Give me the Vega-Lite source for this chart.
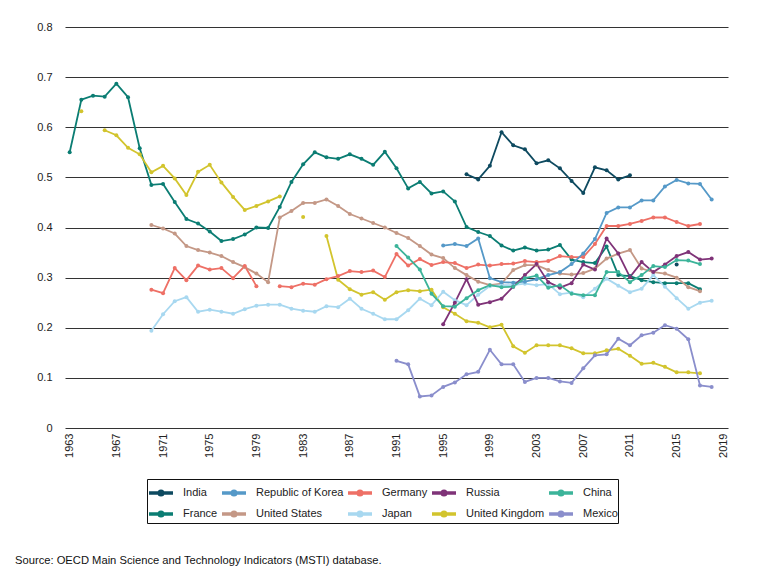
{
  "$schema": "https://vega.github.io/schema/vega-lite/v6.json",
  "width": 663,
  "height": 401,
  "autosize": "none",
  "padding": {"left": 65, "top": 27, "right": 35, "bottom": 156},
  "background": "white",
  "title": {
    "text": "Source: OECD Main Science and Technology Indicators (MSTI) database.",
    "orient": "bottom",
    "anchor": "start",
    "frame": "group",
    "font": "Liberation Sans",
    "fontSize": 11.2,
    "fontWeight": "normal",
    "color": "#111",
    "dx": -50,
    "offset": 31
  },
  "config": {
    "view": {"stroke": null},
    "axis": {"labelFont": "Liberation Sans", "labelFontSize": 11, "labelColor": "#222"},
    "legend": {"labelFont": "Liberation Sans", "labelFontSize": 11, "labelColor": "#222", "gridAlign": "none"}
  },
  "data": {
    "values": [
      {"country": "France", "year": 1963, "value": 0.550}, {"country": "France", "year": 1964, "value": 0.655}, {"country": "France", "year": 1965, "value": 0.663}, {"country": "France", "year": 1966, "value": 0.661}, {"country": "France", "year": 1967, "value": 0.687}, {"country": "France", "year": 1968, "value": 0.660}, {"country": "France", "year": 1969, "value": 0.558}, {"country": "France", "year": 1970, "value": 0.485}, {"country": "France", "year": 1971, "value": 0.487}, {"country": "France", "year": 1972, "value": 0.451}, {"country": "France", "year": 1973, "value": 0.417}, {"country": "France", "year": 1974, "value": 0.408}, {"country": "France", "year": 1975, "value": 0.392}, {"country": "France", "year": 1976, "value": 0.373}, {"country": "France", "year": 1977, "value": 0.377}, {"country": "France", "year": 1978, "value": 0.386}, {"country": "France", "year": 1979, "value": 0.400}, {"country": "France", "year": 1980, "value": 0.399}, {"country": "France", "year": 1981, "value": 0.441}, {"country": "France", "year": 1982, "value": 0.491}, {"country": "France", "year": 1983, "value": 0.526}, {"country": "France", "year": 1984, "value": 0.550}, {"country": "France", "year": 1985, "value": 0.540}, {"country": "France", "year": 1986, "value": 0.537}, {"country": "France", "year": 1987, "value": 0.546}, {"country": "France", "year": 1988, "value": 0.537}, {"country": "France", "year": 1989, "value": 0.525}, {"country": "France", "year": 1990, "value": 0.551}, {"country": "France", "year": 1991, "value": 0.518}, {"country": "France", "year": 1992, "value": 0.478}, {"country": "France", "year": 1993, "value": 0.491}, {"country": "France", "year": 1994, "value": 0.468}, {"country": "France", "year": 1995, "value": 0.472}, {"country": "France", "year": 1996, "value": 0.452}, {"country": "France", "year": 1997, "value": 0.401}, {"country": "France", "year": 1998, "value": 0.391}, {"country": "France", "year": 1999, "value": 0.383}, {"country": "France", "year": 2000, "value": 0.364}, {"country": "France", "year": 2001, "value": 0.354}, {"country": "France", "year": 2002, "value": 0.360}, {"country": "France", "year": 2003, "value": 0.354}, {"country": "France", "year": 2004, "value": 0.356}, {"country": "France", "year": 2005, "value": 0.365}, {"country": "France", "year": 2006, "value": 0.336}, {"country": "France", "year": 2007, "value": 0.331}, {"country": "France", "year": 2008, "value": 0.329}, {"country": "France", "year": 2009, "value": 0.362}, {"country": "France", "year": 2010, "value": 0.305}, {"country": "France", "year": 2011, "value": 0.303}, {"country": "France", "year": 2012, "value": 0.295}, {"country": "France", "year": 2013, "value": 0.291}, {"country": "France", "year": 2014, "value": 0.289}, {"country": "France", "year": 2015, "value": 0.289}, {"country": "France", "year": 2016, "value": 0.289}, {"country": "France", "year": 2017, "value": 0.277},
      {"country": "United Kingdom", "year": 1964, "value": 0.632}, {"country": "United Kingdom", "year": 1965, "value": null}, {"country": "United Kingdom", "year": 1966, "value": 0.594}, {"country": "United Kingdom", "year": 1967, "value": 0.584}, {"country": "United Kingdom", "year": 1968, "value": 0.559}, {"country": "United Kingdom", "year": 1969, "value": 0.546}, {"country": "United Kingdom", "year": 1970, "value": 0.510}, {"country": "United Kingdom", "year": 1971, "value": 0.523}, {"country": "United Kingdom", "year": 1972, "value": 0.498}, {"country": "United Kingdom", "year": 1973, "value": 0.465}, {"country": "United Kingdom", "year": 1974, "value": 0.511}, {"country": "United Kingdom", "year": 1975, "value": 0.525}, {"country": "United Kingdom", "year": 1976, "value": 0.490}, {"country": "United Kingdom", "year": 1977, "value": 0.461}, {"country": "United Kingdom", "year": 1978, "value": 0.435}, {"country": "United Kingdom", "year": 1979, "value": 0.443}, {"country": "United Kingdom", "year": 1980, "value": 0.452}, {"country": "United Kingdom", "year": 1981, "value": 0.462}, {"country": "United Kingdom", "year": 1982, "value": null}, {"country": "United Kingdom", "year": 1983, "value": 0.421}, {"country": "United Kingdom", "year": 1984, "value": null}, {"country": "United Kingdom", "year": 1985, "value": 0.383}, {"country": "United Kingdom", "year": 1986, "value": 0.296}, {"country": "United Kingdom", "year": 1987, "value": 0.277}, {"country": "United Kingdom", "year": 1988, "value": 0.266}, {"country": "United Kingdom", "year": 1989, "value": 0.271}, {"country": "United Kingdom", "year": 1990, "value": 0.256}, {"country": "United Kingdom", "year": 1991, "value": 0.271}, {"country": "United Kingdom", "year": 1992, "value": 0.275}, {"country": "United Kingdom", "year": 1993, "value": 0.273}, {"country": "United Kingdom", "year": 1994, "value": 0.276}, {"country": "United Kingdom", "year": 1995, "value": 0.241}, {"country": "United Kingdom", "year": 1996, "value": 0.228}, {"country": "United Kingdom", "year": 1997, "value": 0.213}, {"country": "United Kingdom", "year": 1998, "value": 0.210}, {"country": "United Kingdom", "year": 1999, "value": 0.201}, {"country": "United Kingdom", "year": 2000, "value": 0.206}, {"country": "United Kingdom", "year": 2001, "value": 0.163}, {"country": "United Kingdom", "year": 2002, "value": 0.150}, {"country": "United Kingdom", "year": 2003, "value": 0.165}, {"country": "United Kingdom", "year": 2004, "value": 0.165}, {"country": "United Kingdom", "year": 2005, "value": 0.165}, {"country": "United Kingdom", "year": 2006, "value": 0.159}, {"country": "United Kingdom", "year": 2007, "value": 0.149}, {"country": "United Kingdom", "year": 2008, "value": 0.149}, {"country": "United Kingdom", "year": 2009, "value": 0.155}, {"country": "United Kingdom", "year": 2010, "value": 0.158}, {"country": "United Kingdom", "year": 2011, "value": 0.144}, {"country": "United Kingdom", "year": 2012, "value": 0.128}, {"country": "United Kingdom", "year": 2013, "value": 0.130}, {"country": "United Kingdom", "year": 2014, "value": 0.122}, {"country": "United Kingdom", "year": 2015, "value": 0.111}, {"country": "United Kingdom", "year": 2016, "value": 0.111}, {"country": "United Kingdom", "year": 2017, "value": 0.109},
      {"country": "United States", "year": 1970, "value": 0.405}, {"country": "United States", "year": 1971, "value": 0.398}, {"country": "United States", "year": 1972, "value": 0.388}, {"country": "United States", "year": 1973, "value": 0.363}, {"country": "United States", "year": 1974, "value": 0.355}, {"country": "United States", "year": 1975, "value": 0.350}, {"country": "United States", "year": 1976, "value": 0.343}, {"country": "United States", "year": 1977, "value": 0.331}, {"country": "United States", "year": 1978, "value": 0.321}, {"country": "United States", "year": 1979, "value": 0.308}, {"country": "United States", "year": 1980, "value": 0.291}, {"country": "United States", "year": 1981, "value": 0.420}, {"country": "United States", "year": 1982, "value": 0.433}, {"country": "United States", "year": 1983, "value": 0.449}, {"country": "United States", "year": 1984, "value": 0.449}, {"country": "United States", "year": 1985, "value": 0.456}, {"country": "United States", "year": 1986, "value": 0.443}, {"country": "United States", "year": 1987, "value": 0.427}, {"country": "United States", "year": 1988, "value": 0.418}, {"country": "United States", "year": 1989, "value": 0.409}, {"country": "United States", "year": 1990, "value": 0.400}, {"country": "United States", "year": 1991, "value": 0.389}, {"country": "United States", "year": 1992, "value": 0.379}, {"country": "United States", "year": 1993, "value": 0.363}, {"country": "United States", "year": 1994, "value": 0.346}, {"country": "United States", "year": 1995, "value": 0.339}, {"country": "United States", "year": 1996, "value": 0.319}, {"country": "United States", "year": 1997, "value": 0.305}, {"country": "United States", "year": 1998, "value": 0.292}, {"country": "United States", "year": 1999, "value": 0.285}, {"country": "United States", "year": 2000, "value": 0.288}, {"country": "United States", "year": 2001, "value": 0.315}, {"country": "United States", "year": 2002, "value": 0.325}, {"country": "United States", "year": 2003, "value": 0.325}, {"country": "United States", "year": 2004, "value": 0.315}, {"country": "United States", "year": 2005, "value": 0.308}, {"country": "United States", "year": 2006, "value": 0.306}, {"country": "United States", "year": 2007, "value": 0.309}, {"country": "United States", "year": 2008, "value": 0.318}, {"country": "United States", "year": 2009, "value": 0.338}, {"country": "United States", "year": 2010, "value": 0.348}, {"country": "United States", "year": 2011, "value": 0.355}, {"country": "United States", "year": 2012, "value": 0.318}, {"country": "United States", "year": 2013, "value": 0.311}, {"country": "United States", "year": 2014, "value": 0.308}, {"country": "United States", "year": 2015, "value": 0.300}, {"country": "United States", "year": 2016, "value": 0.281}, {"country": "United States", "year": 2017, "value": 0.273},
      {"country": "Germany", "year": 1970, "value": 0.276}, {"country": "Germany", "year": 1971, "value": 0.269}, {"country": "Germany", "year": 1972, "value": 0.319}, {"country": "Germany", "year": 1973, "value": 0.295}, {"country": "Germany", "year": 1974, "value": 0.324}, {"country": "Germany", "year": 1975, "value": 0.316}, {"country": "Germany", "year": 1976, "value": 0.319}, {"country": "Germany", "year": 1977, "value": 0.299}, {"country": "Germany", "year": 1978, "value": 0.323}, {"country": "Germany", "year": 1979, "value": 0.283}, {"country": "Germany", "year": 1980, "value": null}, {"country": "Germany", "year": 1981, "value": 0.283}, {"country": "Germany", "year": 1982, "value": 0.281}, {"country": "Germany", "year": 1983, "value": 0.288}, {"country": "Germany", "year": 1984, "value": 0.286}, {"country": "Germany", "year": 1985, "value": 0.297}, {"country": "Germany", "year": 1986, "value": 0.303}, {"country": "Germany", "year": 1987, "value": 0.313}, {"country": "Germany", "year": 1988, "value": 0.311}, {"country": "Germany", "year": 1989, "value": 0.314}, {"country": "Germany", "year": 1990, "value": 0.301}, {"country": "Germany", "year": 1991, "value": 0.347}, {"country": "Germany", "year": 1992, "value": 0.324}, {"country": "Germany", "year": 1993, "value": 0.337}, {"country": "Germany", "year": 1994, "value": 0.325}, {"country": "Germany", "year": 1995, "value": 0.331}, {"country": "Germany", "year": 1996, "value": 0.329}, {"country": "Germany", "year": 1997, "value": 0.319}, {"country": "Germany", "year": 1998, "value": 0.326}, {"country": "Germany", "year": 1999, "value": 0.324}, {"country": "Germany", "year": 2000, "value": 0.327}, {"country": "Germany", "year": 2001, "value": 0.328}, {"country": "Germany", "year": 2002, "value": 0.333}, {"country": "Germany", "year": 2003, "value": 0.331}, {"country": "Germany", "year": 2004, "value": 0.333}, {"country": "Germany", "year": 2005, "value": 0.343}, {"country": "Germany", "year": 2006, "value": 0.341}, {"country": "Germany", "year": 2007, "value": 0.341}, {"country": "Germany", "year": 2008, "value": 0.367}, {"country": "Germany", "year": 2009, "value": 0.403}, {"country": "Germany", "year": 2010, "value": 0.403}, {"country": "Germany", "year": 2011, "value": 0.407}, {"country": "Germany", "year": 2012, "value": 0.413}, {"country": "Germany", "year": 2013, "value": 0.420}, {"country": "Germany", "year": 2014, "value": 0.420}, {"country": "Germany", "year": 2015, "value": 0.411}, {"country": "Germany", "year": 2016, "value": 0.403}, {"country": "Germany", "year": 2017, "value": 0.407},
      {"country": "Japan", "year": 1970, "value": 0.194}, {"country": "Japan", "year": 1971, "value": 0.227}, {"country": "Japan", "year": 1972, "value": 0.253}, {"country": "Japan", "year": 1973, "value": 0.261}, {"country": "Japan", "year": 1974, "value": 0.232}, {"country": "Japan", "year": 1975, "value": 0.236}, {"country": "Japan", "year": 1976, "value": 0.232}, {"country": "Japan", "year": 1977, "value": 0.228}, {"country": "Japan", "year": 1978, "value": 0.237}, {"country": "Japan", "year": 1979, "value": 0.244}, {"country": "Japan", "year": 1980, "value": 0.246}, {"country": "Japan", "year": 1981, "value": 0.246}, {"country": "Japan", "year": 1982, "value": 0.238}, {"country": "Japan", "year": 1983, "value": 0.234}, {"country": "Japan", "year": 1984, "value": 0.232}, {"country": "Japan", "year": 1985, "value": 0.243}, {"country": "Japan", "year": 1986, "value": 0.241}, {"country": "Japan", "year": 1987, "value": 0.258}, {"country": "Japan", "year": 1988, "value": 0.238}, {"country": "Japan", "year": 1989, "value": 0.228}, {"country": "Japan", "year": 1990, "value": 0.217}, {"country": "Japan", "year": 1991, "value": 0.217}, {"country": "Japan", "year": 1992, "value": 0.235}, {"country": "Japan", "year": 1993, "value": 0.258}, {"country": "Japan", "year": 1994, "value": 0.245}, {"country": "Japan", "year": 1995, "value": 0.272}, {"country": "Japan", "year": 1996, "value": 0.255}, {"country": "Japan", "year": 1997, "value": 0.245}, {"country": "Japan", "year": 1998, "value": 0.266}, {"country": "Japan", "year": 1999, "value": 0.283}, {"country": "Japan", "year": 2000, "value": 0.285}, {"country": "Japan", "year": 2001, "value": 0.285}, {"country": "Japan", "year": 2002, "value": 0.288}, {"country": "Japan", "year": 2003, "value": 0.285}, {"country": "Japan", "year": 2004, "value": 0.287}, {"country": "Japan", "year": 2005, "value": 0.267}, {"country": "Japan", "year": 2006, "value": 0.270}, {"country": "Japan", "year": 2007, "value": 0.261}, {"country": "Japan", "year": 2008, "value": 0.278}, {"country": "Japan", "year": 2009, "value": 0.298}, {"country": "Japan", "year": 2010, "value": 0.284}, {"country": "Japan", "year": 2011, "value": 0.271}, {"country": "Japan", "year": 2012, "value": 0.278}, {"country": "Japan", "year": 2013, "value": 0.305}, {"country": "Japan", "year": 2014, "value": 0.282}, {"country": "Japan", "year": 2015, "value": 0.259}, {"country": "Japan", "year": 2016, "value": 0.238}, {"country": "Japan", "year": 2017, "value": 0.250}, {"country": "Japan", "year": 2018, "value": 0.254},
      {"country": "India", "year": 1997, "value": 0.506}, {"country": "India", "year": 1998, "value": 0.496}, {"country": "India", "year": 1999, "value": 0.523}, {"country": "India", "year": 2000, "value": 0.590}, {"country": "India", "year": 2001, "value": 0.564}, {"country": "India", "year": 2002, "value": 0.556}, {"country": "India", "year": 2003, "value": 0.528}, {"country": "India", "year": 2004, "value": 0.534}, {"country": "India", "year": 2005, "value": 0.518}, {"country": "India", "year": 2006, "value": 0.493}, {"country": "India", "year": 2007, "value": 0.469}, {"country": "India", "year": 2008, "value": 0.520}, {"country": "India", "year": 2009, "value": 0.514}, {"country": "India", "year": 2010, "value": 0.496}, {"country": "India", "year": 2011, "value": 0.504}, {"country": "India", "year": 2012, "value": null}, {"country": "India", "year": 2015, "value": 0.326},
      {"country": "Republic of Korea", "year": 1995, "value": 0.364}, {"country": "Republic of Korea", "year": 1996, "value": 0.367}, {"country": "Republic of Korea", "year": 1997, "value": 0.363}, {"country": "Republic of Korea", "year": 1998, "value": 0.378}, {"country": "Republic of Korea", "year": 1999, "value": 0.299}, {"country": "Republic of Korea", "year": 2000, "value": 0.291}, {"country": "Republic of Korea", "year": 2001, "value": 0.290}, {"country": "Republic of Korea", "year": 2002, "value": 0.292}, {"country": "Republic of Korea", "year": 2003, "value": 0.297}, {"country": "Republic of Korea", "year": 2004, "value": 0.305}, {"country": "Republic of Korea", "year": 2005, "value": 0.311}, {"country": "Republic of Korea", "year": 2006, "value": 0.327}, {"country": "Republic of Korea", "year": 2007, "value": 0.348}, {"country": "Republic of Korea", "year": 2008, "value": 0.377}, {"country": "Republic of Korea", "year": 2009, "value": 0.429}, {"country": "Republic of Korea", "year": 2010, "value": 0.440}, {"country": "Republic of Korea", "year": 2011, "value": 0.440}, {"country": "Republic of Korea", "year": 2012, "value": 0.454}, {"country": "Republic of Korea", "year": 2013, "value": 0.454}, {"country": "Republic of Korea", "year": 2014, "value": 0.482}, {"country": "Republic of Korea", "year": 2015, "value": 0.495}, {"country": "Republic of Korea", "year": 2016, "value": 0.488}, {"country": "Republic of Korea", "year": 2017, "value": 0.487}, {"country": "Republic of Korea", "year": 2018, "value": 0.456},
      {"country": "Russia", "year": 1995, "value": 0.207}, {"country": "Russia", "year": 1996, "value": 0.250}, {"country": "Russia", "year": 1997, "value": 0.297}, {"country": "Russia", "year": 1998, "value": 0.246}, {"country": "Russia", "year": 1999, "value": 0.251}, {"country": "Russia", "year": 2000, "value": 0.258}, {"country": "Russia", "year": 2001, "value": 0.282}, {"country": "Russia", "year": 2002, "value": 0.305}, {"country": "Russia", "year": 2003, "value": 0.327}, {"country": "Russia", "year": 2004, "value": 0.291}, {"country": "Russia", "year": 2005, "value": 0.280}, {"country": "Russia", "year": 2006, "value": 0.289}, {"country": "Russia", "year": 2007, "value": 0.326}, {"country": "Russia", "year": 2008, "value": 0.316}, {"country": "Russia", "year": 2009, "value": 0.378}, {"country": "Russia", "year": 2010, "value": 0.348}, {"country": "Russia", "year": 2011, "value": 0.301}, {"country": "Russia", "year": 2012, "value": 0.331}, {"country": "Russia", "year": 2013, "value": 0.311}, {"country": "Russia", "year": 2014, "value": 0.326}, {"country": "Russia", "year": 2015, "value": 0.343}, {"country": "Russia", "year": 2016, "value": 0.351}, {"country": "Russia", "year": 2017, "value": 0.336}, {"country": "Russia", "year": 2018, "value": 0.338},
      {"country": "China", "year": 1991, "value": 0.363}, {"country": "China", "year": 1992, "value": 0.340}, {"country": "China", "year": 1993, "value": 0.316}, {"country": "China", "year": 1994, "value": 0.268}, {"country": "China", "year": 1995, "value": 0.243}, {"country": "China", "year": 1996, "value": 0.242}, {"country": "China", "year": 1997, "value": 0.259}, {"country": "China", "year": 1998, "value": 0.275}, {"country": "China", "year": 1999, "value": 0.285}, {"country": "China", "year": 2000, "value": 0.281}, {"country": "China", "year": 2001, "value": 0.282}, {"country": "China", "year": 2002, "value": 0.299}, {"country": "China", "year": 2003, "value": 0.304}, {"country": "China", "year": 2004, "value": 0.280}, {"country": "China", "year": 2005, "value": 0.285}, {"country": "China", "year": 2006, "value": 0.268}, {"country": "China", "year": 2007, "value": 0.265}, {"country": "China", "year": 2008, "value": 0.265}, {"country": "China", "year": 2009, "value": 0.311}, {"country": "China", "year": 2010, "value": 0.311}, {"country": "China", "year": 2011, "value": 0.291}, {"country": "China", "year": 2012, "value": 0.305}, {"country": "China", "year": 2013, "value": 0.323}, {"country": "China", "year": 2014, "value": 0.321}, {"country": "China", "year": 2015, "value": 0.335}, {"country": "China", "year": 2016, "value": 0.334}, {"country": "China", "year": 2017, "value": 0.327},
      {"country": "Mexico", "year": 1991, "value": 0.134}, {"country": "Mexico", "year": 1992, "value": 0.127}, {"country": "Mexico", "year": 1993, "value": 0.063}, {"country": "Mexico", "year": 1994, "value": 0.065}, {"country": "Mexico", "year": 1995, "value": 0.082}, {"country": "Mexico", "year": 1996, "value": 0.091}, {"country": "Mexico", "year": 1997, "value": 0.107}, {"country": "Mexico", "year": 1998, "value": 0.112}, {"country": "Mexico", "year": 1999, "value": 0.156}, {"country": "Mexico", "year": 2000, "value": 0.127}, {"country": "Mexico", "year": 2001, "value": 0.127}, {"country": "Mexico", "year": 2002, "value": 0.092}, {"country": "Mexico", "year": 2003, "value": 0.100}, {"country": "Mexico", "year": 2004, "value": 0.100}, {"country": "Mexico", "year": 2005, "value": 0.093}, {"country": "Mexico", "year": 2006, "value": 0.090}, {"country": "Mexico", "year": 2007, "value": 0.119}, {"country": "Mexico", "year": 2008, "value": 0.145}, {"country": "Mexico", "year": 2009, "value": 0.147}, {"country": "Mexico", "year": 2010, "value": 0.178}, {"country": "Mexico", "year": 2011, "value": 0.165}, {"country": "Mexico", "year": 2012, "value": 0.185}, {"country": "Mexico", "year": 2013, "value": 0.190}, {"country": "Mexico", "year": 2014, "value": 0.205}, {"country": "Mexico", "year": 2015, "value": 0.198}, {"country": "Mexico", "year": 2016, "value": 0.177}, {"country": "Mexico", "year": 2017, "value": 0.085}, {"country": "Mexico", "year": 2018, "value": 0.082}
    ]
  },
  "encoding": {
    "x": {
      "field": "year",
      "type": "quantitative",
      "title": null,
      "scale": {"domain": [1962.6, 2019.4], "nice": false, "zero": false},
      "axis": {
        "values": [1963, 1967, 1971, 1975, 1979, 1983, 1987, 1991, 1995, 1999, 2003, 2007, 2011, 2015, 2019],
        "format": "d",
        "labelAngle": -90,
        "labelPadding": 5,
        "ticks": false,
        "domain": false,
        "grid": false
      }
    },
    "y": {
      "field": "value",
      "type": "quantitative",
      "title": null,
      "scale": {"domain": [0, 0.8], "nice": false},
      "axis": {
        "values": [0, 0.1, 0.2, 0.3, 0.4, 0.5, 0.6, 0.7, 0.8],
        "labelExpr": "datum.value == 0 ? '0' : format(datum.value, '.1f')",
        "labelPadding": 13,
        "ticks": false,
        "domain": false,
        "grid": true,
        "gridColor": "#333333",
        "gridWidth": 1.2
      }
    },
    "color": {
      "field": "country",
      "type": "nominal",
      "scale": {
        "domain": ["India", "Republic of Korea", "Germany", "Russia", "China", "France", "United States", "Japan", "United Kingdom", "Mexico"],
        "range": ["#0e4a60", "#5599c8", "#ee7066", "#7f3378", "#3cb49a", "#0b7d73", "#c49886", "#a8d8f0", "#d2c42d", "#8a8ecc"]
      },
      "legend": {
        "title": null,
        "orient": "none",
        "legendX": 82,
        "legendY": 452,
        "direction": "horizontal",
        "columns": 5,
        "gridAlign": "none",
        "symbolType": "M-1,0H1M0,-0.15A0.15,0.15,0,1,1,0,0.15A0.15,0.15,0,1,1,0,-0.15Z",
        "symbolSize": 576,
        "symbolStrokeWidth": 3.5,
        "labelOffset": 8,
        "columnPadding": -3,
        "rowPadding": -2,
        "padding": 0,
        "strokeColor": "#111111"
      }
    }
  },
  "layer": [
    {
      "mark": {"type": "line", "strokeWidth": 1.8, "invalid": "break-paths-show-domains"}
    },
    {
      "transform": [{"filter": "isValid(datum.value)"}],
      "mark": {"type": "point", "filled": true, "size": 16, "opacity": 1}
    }
  ]
}
